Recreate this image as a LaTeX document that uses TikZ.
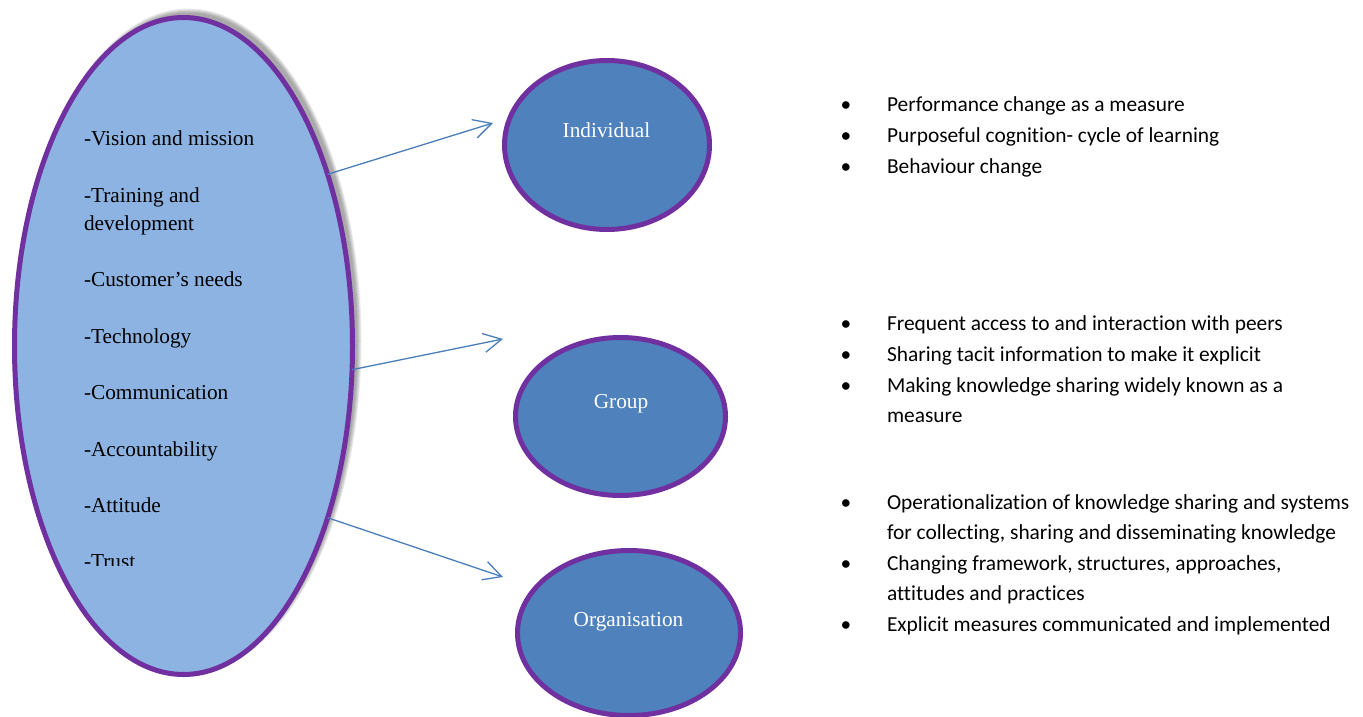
\documentclass[tikz,border=0pt]{standalone}
\usepackage{fontspec}
\setmainfont{Liberation Serif}
\newfontfamily\calibrifont[Ligatures=NoCommon]{Carlito}
\usetikzlibrary{shapes.geometric,arrows.meta}
\definecolor{c8db3e2}{RGB}{141,179,226}
\definecolor{c7030a0}{RGB}{112,48,160}
\definecolor{c4f81bd}{RGB}{79,129,189}
\definecolor{c4a7ebb}{RGB}{74,126,187}

\begin{document}
\begin{tikzpicture}[y=1pt, x=1pt, yscale=-1, inner sep=0pt, outer sep=0pt,
  factortext/.style={font=\fontsize{21.3}{28.2}\selectfont, anchor=base west},
  levelellipse/.style={ellipse, draw=c7030a0, fill=c4f81bd, line width=5pt},
  levellabel/.style={font=\fontsize{21.3}{28.2}\selectfont, text=white, anchor=base},
  listtext/.style={font=\calibrifont\fontsize{21.4}{30}\selectfont, anchor=base west},
  listbullet/.style={font=\calibrifont\fontsize{21.4}{30}\selectfont, anchor=base},
  arrowline/.style={draw=c4a7ebb, line width=1.3pt, -{Straight Barb[length=18pt,width=19pt]}}]
  \useasboundingbox (0,0) rectangle (1363,717);
  % soft shadow behind the big ellipse
  \foreach \g in {0,...,4}
    \path[fill=black, fill opacity=0.08] (188.5,341) ellipse ({169+\g} and {328.5+\g});
  \node[ellipse, draw=c7030a0, fill=c8db3e2, line width=5pt,
    minimum width=338pt, minimum height=657pt] (factors) at (183.5,346) {};
  % factors
  \path (84,145) node[factortext] (text-vision) {-Vision and mission};
  \path (84,202) node[factortext] (text-training) {-Training and};
  \path (84,230) node[factortext] (text-development) {development};
  \path (84,286) node[factortext] (text-customer) {-Customer’s needs};
  \path (84,343) node[factortext] (text-technology) {-Technology};
  \path (84,399) node[factortext] (text-communication) {-Communication};
  \path (84,456) node[factortext] (text-accountability) {-Accountability};
  \path (84,512) node[factortext] (text-attitude) {-Attitude};
  \begin{scope}
    \clip (0,0) rectangle (1363,565);
    \path (84,568) node[factortext] (text-trust) {-Trust};
  \end{scope}
  % levels
  \node[levelellipse, minimum width=205pt, minimum height=169pt] (individual) at (607,145) {};
  \node[levelellipse, minimum width=210pt, minimum height=158pt] (group) at (620.5,416.5) {};
  \node[levelellipse, minimum width=223pt, minimum height=165pt] (organisation) at (629,633) {};
  \path (606.5,137) node[levellabel] (text-individual) {Individual};
  \path (621,408) node[levellabel] (text-group) {Group};
  \path (628.5,626) node[levellabel] (text-organisation) {Organisation};
  % arrows
  \coordinate (tip-individual) at (493,123);
  \coordinate (tip-group) at (503,339);
  \coordinate (tip-organisation) at (503,577);
  \draw[arrowline] (factors.50) -- (tip-individual);
  \draw[arrowline] (factors.-8.5) -- (tip-group);
  \draw[arrowline] (factors.-50.5) -- (tip-organisation);
  % individual measures
  \path (846,111) node[listbullet] (bullet-i1) {•};
  \path (887,111) node[listtext] (text-i1) {Performance change as a measure};
  \path (846,142) node[listbullet] (bullet-i2) {•};
  \path (887,142) node[listtext] (text-i2) {Purposeful cognition- cycle of learning};
  \path (846,173) node[listbullet] (bullet-i3) {•};
  \path (887,173) node[listtext] (text-i3) {Behaviour change};
  % group measures
  \path (846,330) node[listbullet] (bullet-g1) {•};
  \path (887,330) node[listtext] (text-g1) {Frequent access to and interaction with peers};
  \path (846,361) node[listbullet] (bullet-g2) {•};
  \path (887,361) node[listtext] (text-g2) {Sharing tacit information to make it explicit};
  \path (846,392) node[listbullet] (bullet-g3) {•};
  \path (887,392) node[listtext] (text-g3) {Making knowledge sharing widely known as a};
  \path (887,422) node[listtext] (text-g3b) {measure};
  % organisation measures
  \path (846,509) node[listbullet] (bullet-o1) {•};
  \path (887,509) node[listtext] (text-o1) {Operationalization of knowledge sharing and systems};
  \path (887,539.5) node[listtext] (text-o1b) {for collecting, sharing and disseminating knowledge};
  \path (846,570) node[listbullet] (bullet-o2) {•};
  \path (887,570) node[listtext] (text-o2) {Changing framework, structures, approaches,};
  \path (887,600.5) node[listtext] (text-o2b) {attitudes and practices};
  \path (846,631) node[listbullet] (bullet-o3) {•};
  \path (887,631) node[listtext] (text-o3) {Explicit measures communicated and implemented};
\end{tikzpicture}
\end{document}
